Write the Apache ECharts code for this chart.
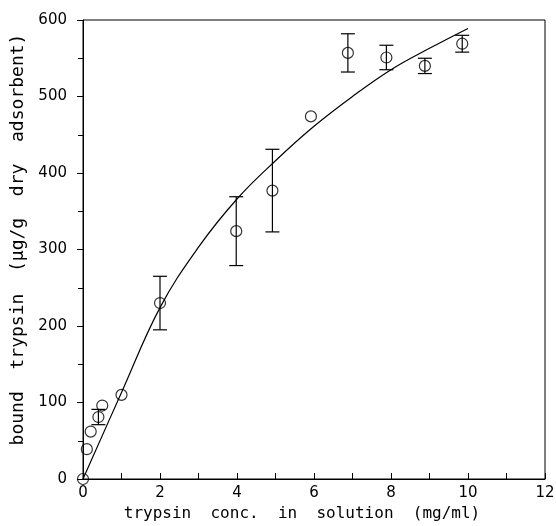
<!DOCTYPE html>
<html>
<head>
<meta charset="utf-8">
<script src="https://cdn.jsdelivr.net/npm/echarts@6/dist/echarts.min.js"></script>
<style>
  html, body { margin: 0; padding: 0; background: #fff; }
  #chart { width: 556px; height: 526px; }
</style>
</head>
<body>
<div id="chart"></div>
<script>
// measured points (mg/ml, ug/g) and their error half-widths
var ptX = [0, 0.1, 0.2, 0.4, 0.5, 1, 2, 3.98, 4.92, 5.92, 6.88, 7.88, 8.88, 9.85];
var ptY = [0, 39, 62, 81, 96, 110, 230, 324, 377, 474, 557, 551, 540, 569];
var ptErr = [0, 0, 0, 10, 0, 0, 35, 45, 54, 0, 25, 16, 10, 11];

// fitted curve
var fitX = [0, 1, 2, 3, 4, 5, 6, 7, 8, 9, 10];
var fitY = [0, 113, 224, 303, 366, 416, 461, 500, 535, 563, 589];

var xTicks = [0, 2, 4, 6, 8, 10, 12];
var yTicks = [0, 100, 200, 300, 400, 500, 600];

var chart = echarts.init(document.getElementById('chart'), null, { renderer: 'canvas' });

var pts = ptX.map(function (x, i) { return [x, ptY[i]]; });
var errs = ptX.map(function (x, i) { return [x, ptY[i] - ptErr[i], ptY[i] + ptErr[i]]; }).filter(function (d, i) { return ptErr[i] > 0; });
var fit = fitX.map(function (x, i) { return [x, fitY[i]]; });

var font = 'DejaVu Sans';
var titleFont = 'DejaVu Sans Mono';
var option = {
  animation: false,
  backgroundColor: '#fff',
  grid: {
    left: 83, right: 11, top: 20, bottom: 47,
    outerBoundsMode: 'none',
    show: true, borderColor: '#000', borderWidth: 1
  },
  xAxis: {
    type: 'value',
    min: xTicks[0], max: xTicks[xTicks.length - 1], interval: 2,
    name: 'trypsin  conc.  in  solution  (mg/ml)',
    nameLocation: 'middle', nameGap: 27,
    nameTextStyle: { fontFamily: titleFont, fontSize: 16, color: '#000', padding: [0, 24, 0, 0] },
    axisLine: { lineStyle: { color: '#000', width: 1 } },
    axisTick: { inside: true, length: 6, lineStyle: { color: '#000' } },
    minorTick: { show: true, splitNumber: 2, length: 6, lineStyle: { color: '#000' } },
    axisLabel: { fontFamily: font, fontSize: 15, color: '#000', margin: 7 },
    splitLine: { show: false }
  },
  yAxis: {
    type: 'value',
    min: yTicks[0], max: yTicks[yTicks.length - 1], interval: 100,
    name: 'bound  trypsin  (\u00b5g/g  dry  adsorbent)',
    nameLocation: 'middle', nameGap: 54,
    nameTextStyle: { fontFamily: titleFont, fontSize: 18, color: '#000', padding: [0, 0, 0, 20] },
    axisLine: { lineStyle: { color: '#000', width: 1 } },
    axisTick: { inside: false, length: 6, lineStyle: { color: '#000' } },
    minorTick: { show: true, splitNumber: 2, length: 5, lineStyle: { color: '#000' } },
    axisLabel: { fontFamily: font, fontSize: 15, color: '#000', margin: 16 },
    splitLine: { show: false }
  },
  series: [
    {
      type: 'line',
      data: fit,
      smooth: 0.4,
      symbol: 'none',
      lineStyle: { color: '#000', width: 1.2 },
      z: 2
    },
    {
      type: 'custom',
      data: errs,
      renderItem: function (params, api) {
        var x = api.value(0);
        var lo = api.coord([x, api.value(1)]);
        var hi = api.coord([x, api.value(2)]);
        var w = 7;
        var st = { stroke: '#000', lineWidth: 1.2 };
        return {
          type: 'group',
          children: [
            { type: 'line', shape: { x1: lo[0], y1: lo[1], x2: hi[0], y2: hi[1] }, style: st },
            { type: 'line', shape: { x1: lo[0] - w, y1: lo[1], x2: lo[0] + w, y2: lo[1] }, style: st },
            { type: 'line', shape: { x1: hi[0] - w, y1: hi[1], x2: hi[0] + w, y2: hi[1] }, style: st }
          ]
        };
      },
      z: 3
    },
    {
      type: 'scatter',
      data: pts,
      symbol: 'circle',
      symbolSize: 11,
      itemStyle: { color: 'rgba(0,0,0,0)', borderColor: '#000', borderWidth: 1.2 },
      z: 4
    }
  ]
};

option && chart.setOption(option);
</script>
</body>
</html>
